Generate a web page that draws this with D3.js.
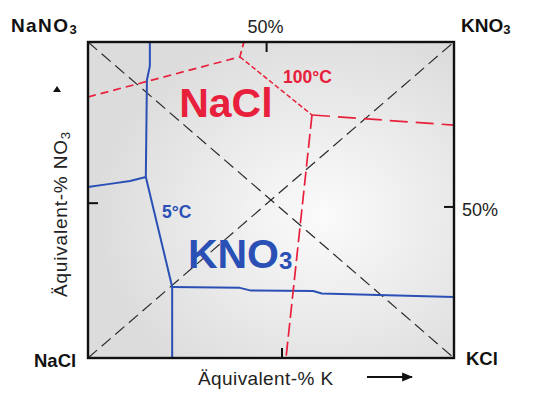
<!DOCTYPE html>
<html>
<head>
<meta charset="utf-8">
<script src="https://cdn.jsdelivr.net/npm/d3@7"></script>
<style>
  html, body { margin: 0; padding: 0; background: #fff; }
  svg { display: block; font-family: "Liberation Sans", Arial, sans-serif; }
</style>
</head>
<body>
<svg id="chart" width="540" height="408"></svg>
<script>
// Reciprocal salt pair Na+, K+ / Cl-, NO3- : equivalent-% K (x) vs equivalent-% NO3 (y)

// 100 °C saturation boundaries, points as [eq-% K, eq-% NO3]
const red100Left   = [[0, 82.6], [41.5, 95.3]];
const red100Top    = [[41.5, 95.3], [42.6, 100]];
const red100Mid    = [[41.5, 95.3], [61.2, 76.9]];
const red100Right  = [[61.2, 76.9], [100, 73.7]];
const red100Bottom = [[61.2, 76.9], [54.1, 0]];

// 5 °C saturation boundaries
const blue5Top    = [[16.9, 100], [16.9, 92.4], [16.1, 88], [15.8, 57.3]];
const blue5Left   = [[0, 54.1], [6.0, 55.1], [11.5, 56.0], [15.8, 57.3]];
const blue5Slope  = [[15.8, 57.3], [23.0, 22.5]];
const blue5Bottom = [[23.0, 22.5], [23.0, 0]];
const blue5Right  = [[23.0, 22.5], [41.5, 22.2], [44.3, 21.4], [61.5, 21.2], [63.9, 20.4], [100, 19.3]];

// diagonals between opposite corner salts
const diagNaNO3KCl = [[0, 100], [100, 0]];
const diagNaClKNO3 = [[0, 0], [100, 100]];

// tick marks (eq-%) on each side
const topTicks = [48.8];
const bottomTicks = [53];
const leftTicks = [49];
const rightTicks = [47.8];
const tickLabel = "50%";

// corner salts: [base, subscript]
const cornerNaNO3 = ["NaNO", "3"];
const cornerKNO3 = ["KNO", "3"];
const cornerNaCl = ["NaCl", ""];
const cornerKCl = ["KCl", ""];

// field and isotherm labels
const fieldNaCl = "NaCl";
const fieldKNO3 = ["KNO", "3"];
const iso100 = "100°C";
const iso5 = "5°C";
const xTitle = "Äquivalent-% K";
const yTitle = ["Äquivalent-% NO", "3"];

const svg = d3.select("#chart");
const x = d3.scaleLinear().domain([0, 100]).range([88, 454]);
const y = d3.scaleLinear().domain([0, 100]).range([358, 42]);

const RED = "#e8203b";
const BLUE = "#2a50b6";

// background gradient of the plotting area
const defs = svg.append("defs");
const grad = defs.append("radialGradient").attr("id", "bg")
  .attr("cx", "0.64").attr("cy", "0.55").attr("r", "0.62");
grad.append("stop").attr("offset", "0").attr("stop-color", "#fbfbfb");
grad.append("stop").attr("offset", "1").attr("stop-color", "#dcdcdc");

svg.append("rect")
  .attr("x", x(0)).attr("y", y(100))
  .attr("width", x(100) - x(0)).attr("height", y(0) - y(100))
  .attr("fill", "url(#bg)");

const line = d3.line().x(d => x(d[0])).y(d => y(d[1]));

function path(data, color, width, dash) {
  svg.append("path").datum(data)
    .attr("d", line)
    .attr("fill", "none")
    .attr("stroke", color)
    .attr("stroke-width", width)
    .attr("stroke-dasharray", dash || null)
    .attr("stroke-linejoin", "round");
}

// diagonals
path(diagNaNO3KCl, "#2a2a2a", 1.2, "12,6");
path(diagNaClKNO3, "#2a2a2a", 1.2, "12,6");

// 5 °C isotherm
[blue5Top, blue5Left, blue5Slope, blue5Bottom, blue5Right].forEach(d => path(d, BLUE, 2));

// 100 °C isotherm
path(red100Left, RED, 1.7, "8,5");
path(red100Top, RED, 1.7, "6,4");
path(red100Mid, RED, 1.5, "5,2.5");
path(red100Right, RED, 1.7, "18,8");
path(red100Bottom, RED, 1.7, "14,5");

// frame
svg.append("rect")
  .attr("x", x(0)).attr("y", y(100))
  .attr("width", x(100) - x(0)).attr("height", y(0) - y(100))
  .attr("fill", "none").attr("stroke", "#111").attr("stroke-width", 2.4);

// ticks
const T = 10;
const tk = svg.append("g").attr("stroke", "#111").attr("stroke-width", 2);
tk.selectAll(".tt").data(topTicks).join("line")
  .attr("x1", d => x(d)).attr("x2", d => x(d)).attr("y1", y(100)).attr("y2", y(100) + T);
tk.selectAll(".bt").data(bottomTicks).join("line")
  .attr("x1", d => x(d)).attr("x2", d => x(d)).attr("y1", y(0)).attr("y2", y(0) - T);
tk.selectAll(".lt").data(leftTicks).join("line")
  .attr("x1", x(0)).attr("x2", x(0) + T).attr("y1", d => y(d)).attr("y2", d => y(d));
tk.selectAll(".rt").data(rightTicks).join("line")
  .attr("x1", x(100)).attr("x2", x(100) - T).attr("y1", d => y(d)).attr("y2", d => y(d));

svg.selectAll(".tl-top").data(topTicks).join("text")
  .attr("x", d => x(d) - 1).attr("y", 33)
  .attr("text-anchor", "middle").attr("font-size", 18).attr("fill", "#222")
  .text(tickLabel);
svg.selectAll(".tl-right").data(rightTicks).join("text")
  .attr("x", 462).attr("y", d => y(d) + 9)
  .attr("font-size", 18).attr("fill", "#222")
  .text(tickLabel);

// chemical labels with subscript
function chem(parent, parts, xPos, yPos, size, subSize, color, anchor, extra) {
  const t = parent.append("text")
    .attr("x", xPos).attr("y", yPos)
    .attr("font-size", size).attr("font-weight", "bold")
    .attr("fill", color).attr("text-anchor", anchor || "start");
  if (extra) extra(t);
  t.append("tspan").text(parts[0]);
  if (parts[1]) t.append("tspan").attr("font-size", subSize).attr("dy", size * 0.12).text(parts[1]);
  return t;
}

chem(svg, cornerNaNO3, 11, 32, 19, 13, "#111", "start", t => t.attr("letter-spacing", 1.4));
chem(svg, cornerKNO3, 461, 32, 19, 13, "#111");
chem(svg, cornerNaCl, 34, 367, 18.5, 13, "#111");
chem(svg, cornerKCl, 466, 365, 18.5, 13, "#111");

// field labels
svg.append("text")
  .attr("x", x(24.9)).attr("y", y(76.3))
  .attr("font-size", 41).attr("font-weight", "bold").attr("fill", RED)
  .text(fieldNaCl);
const kt = svg.append("text")
  .attr("x", x(27.3)).attr("y", y(28.5))
  .attr("font-size", 41).attr("font-weight", "bold").attr("fill", BLUE);
kt.append("tspan").text(fieldKNO3[0]);
kt.append("tspan").attr("font-size", 24).attr("dy", 1).text(fieldKNO3[1]);

// isotherm labels
svg.append("text")
  .attr("x", x(53.3)).attr("y", y(87))
  .attr("font-size", 17.5).attr("font-weight", "bold").attr("fill", RED)
  .text(iso100);
svg.append("text")
  .attr("x", x(20.2)).attr("y", y(44.3))
  .attr("font-size", 17.5).attr("font-weight", "bold").attr("fill", BLUE)
  .text(iso5);

// axis titles
svg.append("text")
  .attr("x", 198).attr("y", 385)
  .attr("font-size", 19).attr("fill", "#222").attr("letter-spacing", 0.4)
  .text(xTitle);

const yt = svg.append("text")
  .attr("transform", "translate(67,297) rotate(-90)")
  .attr("font-size", 19).attr("fill", "#222").attr("letter-spacing", 0.8);
yt.append("tspan").text(yTitle[0]);
yt.append("tspan").attr("font-size", 13).attr("dy", 3).text(yTitle[1]);

// direction arrows
defs.append("marker").attr("id", "arr")
  .attr("viewBox", "0 0 10 10").attr("refX", 9).attr("refY", 5)
  .attr("markerWidth", 5).attr("markerHeight", 5).attr("orient", "auto")
  .append("path").attr("d", "M0,1 L10,5 L0,9 Z").attr("fill", "#111");

svg.append("line")
  .attr("x1", 367).attr("x2", 412).attr("y1", 377).attr("y2", 377)
  .attr("stroke", "#111").attr("stroke-width", 2.2)
  .attr("marker-end", "url(#arr)");

svg.append("path")
  .attr("d", "M57,86 L61,92 L53,92 Z")
  .attr("fill", "#111");
</script>
</body>
</html>
